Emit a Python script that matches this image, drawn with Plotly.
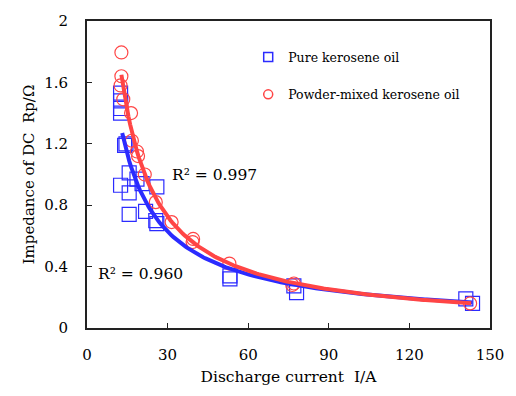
import plotly.graph_objects as go
import numpy as np

# Pure kerosene oil (blue squares)
pure_I = [12.5, 12.5, 12.5, 12.5, 14, 15.7, 14.5, 12.5, 15.7, 18.6, 20.5, 26, 15.7, 21.8, 26, 25.6,
          53.2, 53.2, 77, 78, 141, 143.5]
pure_R = [1.53, 1.48, 1.43, 1.40, 1.19, 1.01, 1.20, 0.93, 0.88, 0.97, 0.94, 0.92, 0.74, 0.76, 0.68, 0.70,
          0.32, 0.34, 0.275, 0.23, 0.19, 0.16]

# Powder-mixed kerosene oil (red circles)
pmk_I = [12.8, 12.8, 12.5, 13.5, 16.4, 16.7, 18.6, 19.0, 21.5, 25.6, 31.5, 39.3, 39.5, 53, 76.4, 77, 142.6]
pmk_R = [1.795, 1.64, 1.58, 1.49, 1.40, 1.22, 1.15, 1.12, 1.00, 0.82, 0.69, 0.56, 0.58, 0.42, 0.28, 0.29, 0.16]

# Power-law trendlines R = a * I^b
pure_fit = {"a": 1.27 * 13.1 ** 0.849, "b": -0.849, "from": 13.1, "to": 143.5}
pmk_fit = {"a": 1.65 * 12.8 ** 0.964, "b": -0.964, "from": 12.8, "to": 143.0}

x_ticks = [0, 30, 60, 90, 120, 150]
y_ticks = [0, 0.4, 0.8, 1.2, 1.6, 2]
y_tick_text = ["0", "0.4", "0.8", "1.2", "1.6", "2"]

BLUE = "#2b2bff"
RED = "#ff4545"
FONT = "DejaVu Serif"

fig = go.Figure()

fig.add_trace(go.Scatter(x=pure_I, y=pure_R, mode="markers", showlegend=False,
                         marker=dict(symbol="square-open", size=14, color=BLUE, line=dict(width=1.2))))
fig.add_trace(go.Scatter(x=pmk_I, y=pmk_R, mode="markers", showlegend=False,
                         marker=dict(symbol="circle-open", size=13, color=RED, line=dict(width=1.2))))

for fit, col in [(pure_fit, BLUE), (pmk_fit, RED)]:
    xs = np.linspace(fit["from"], fit["to"], 200)
    fig.add_trace(go.Scatter(x=xs, y=fit["a"] * xs ** fit["b"], mode="lines", showlegend=False,
                             line=dict(color=col, width=4)))

# legend entries
fig.add_trace(go.Scatter(x=[None], y=[None], mode="markers", name="Pure kerosene oil", legendgroup="a",
                         marker=dict(symbol="square-open", size=9, color=BLUE, line=dict(width=1.5))))
fig.add_trace(go.Scatter(x=[None], y=[None], mode="markers", name="Powder-mixed kerosene oil", legendgroup="b",
                         marker=dict(symbol="circle-open", size=9, color=RED, line=dict(width=1.5))))

fig.add_annotation(x=31, y=1.0, xref="x", yref="y", text="R² = 0.997", showarrow=False,
                   xanchor="left", yanchor="middle", font=dict(family=FONT, size=15.5, color="black"))
fig.add_annotation(x=3.5, y=0.355, xref="x", yref="y", text="R² = 0.960", showarrow=False,
                   xanchor="left", yanchor="middle", font=dict(family=FONT, size=15.5, color="black"))

axis_common = dict(showline=True, linecolor="#222", linewidth=2, mirror=True, ticks="inside",
                   ticklen=5, tickcolor="#222", showgrid=False, zeroline=False,
                   tickfont=dict(family=FONT, size=15, color="black"))

fig.update_layout(
    width=516, height=396,
    margin=dict(l=87, r=21, t=16, b=68),
    paper_bgcolor="white", plot_bgcolor="white",
    font=dict(family=FONT),
    xaxis=dict(range=[0, 150], tickvals=x_ticks, ticklabelstandoff=12,
               title=dict(text="Discharge current  I/A", font=dict(family=FONT, size=15.5, color="black"), standoff=8),
               **axis_common),
    yaxis=dict(range=[0, 2], tickvals=y_ticks, ticktext=y_tick_text, ticklabelstandoff=14,
               title=dict(text="Impedance of DC  Rp/Ω", font=dict(family=FONT, size=15, color="black"), standoff=6),
               **axis_common),
    legend=dict(x=0.40, y=0.93, xanchor="left", yanchor="top", bgcolor="rgba(0,0,0,0)",
                traceorder="grouped", tracegroupgap=18, itemwidth=30,
                font=dict(family=FONT, size=12.5, color="black")),
    showlegend=True,
)

fig.write_html("out.html")
